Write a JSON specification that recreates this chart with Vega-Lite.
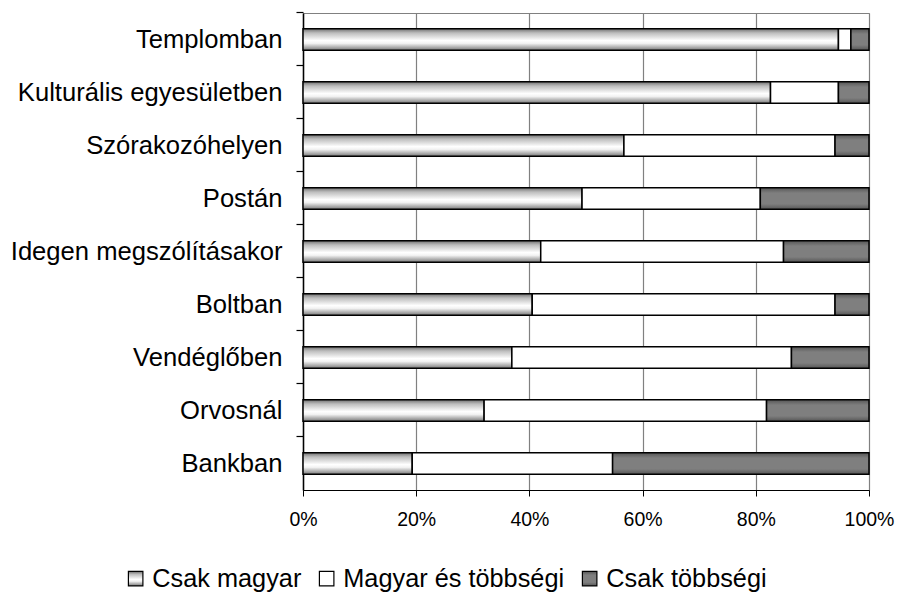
{
  "$schema": "https://vega.github.io/schema/vega-lite/v6.json",
  "width": 566,
  "height": 477,
  "autosize": {"type": "none"},
  "padding": {"left": 303, "top": 13, "right": 29, "bottom": 103},
  "background": "white",
  "config": {
    "font": "Liberation Sans",
    "view": {"stroke": "#808080", "strokeWidth": 1}
  },
  "data": {
    "values": [
      {"hely": "Templomban", "series": "Csak magyar", "value": 94.6},
      {"hely": "Templomban", "series": "Magyar és többségi", "value": 2.2},
      {"hely": "Templomban", "series": "Csak többségi", "value": 3.2},
      {"hely": "Kulturális egyesületben", "series": "Csak magyar", "value": 82.6},
      {"hely": "Kulturális egyesületben", "series": "Magyar és többségi", "value": 12.0},
      {"hely": "Kulturális egyesületben", "series": "Csak többségi", "value": 5.4},
      {"hely": "Szórakozóhelyen", "series": "Csak magyar", "value": 56.7},
      {"hely": "Szórakozóhelyen", "series": "Magyar és többségi", "value": 37.3},
      {"hely": "Szórakozóhelyen", "series": "Csak többségi", "value": 6.0},
      {"hely": "Postán", "series": "Csak magyar", "value": 49.3},
      {"hely": "Postán", "series": "Magyar és többségi", "value": 31.5},
      {"hely": "Postán", "series": "Csak többségi", "value": 19.2},
      {"hely": "Idegen megszólításakor", "series": "Csak magyar", "value": 42.0},
      {"hely": "Idegen megszólításakor", "series": "Magyar és többségi", "value": 42.9},
      {"hely": "Idegen megszólításakor", "series": "Csak többségi", "value": 15.1},
      {"hely": "Boltban", "series": "Csak magyar", "value": 40.5},
      {"hely": "Boltban", "series": "Magyar és többségi", "value": 53.5},
      {"hely": "Boltban", "series": "Csak többségi", "value": 6.0},
      {"hely": "Vendéglőben", "series": "Csak magyar", "value": 36.9},
      {"hely": "Vendéglőben", "series": "Magyar és többségi", "value": 49.4},
      {"hely": "Vendéglőben", "series": "Csak többségi", "value": 13.7},
      {"hely": "Orvosnál", "series": "Csak magyar", "value": 32.0},
      {"hely": "Orvosnál", "series": "Magyar és többségi", "value": 49.9},
      {"hely": "Orvosnál", "series": "Csak többségi", "value": 18.1},
      {"hely": "Bankban", "series": "Csak magyar", "value": 19.3},
      {"hely": "Bankban", "series": "Magyar és többségi", "value": 35.4},
      {"hely": "Bankban", "series": "Csak többségi", "value": 45.3}
    ]
  },
  "transform": [
    {
      "lookup": "series",
      "from": {
        "data": {"values": [
          {"series": "Csak magyar", "k": 1},
          {"series": "Magyar és többségi", "k": 2},
          {"series": "Csak többségi", "k": 3}
        ]},
        "key": "series",
        "fields": ["k"]
      }
    }
  ],
  "layer": [
    {
      "mark": {"type": "bar", "stroke": "black", "strokeWidth": 1.5},
      "encoding": {
        "y": {
          "field": "hely",
          "type": "nominal",
          "sort": ["Templomban", "Kulturális egyesületben", "Szórakozóhelyen", "Postán", "Idegen megszólításakor", "Boltban", "Vendéglőben", "Orvosnál", "Bankban"],
          "scale": {"paddingInner": 0.59, "paddingOuter": 0.295},
          "axis": {
            "title": null,
            "orient": "left",
            "ticks": false,
            "domain": true,
            "domainColor": "black",
            "domainWidth": 1.5,
            "labelFontSize": 25.6,
            "labelColor": "black",
            "labelPadding": 21,
            "labelLimit": 400
          }
        },
        "x": {
          "field": "value",
          "type": "quantitative",
          "stack": "zero",
          "scale": {"domain": [0, 100], "nice": false},
          "axis": {
            "title": null,
            "values": [0, 20, 40, 60, 80, 100],
            "labelExpr": "datum.value + '%'",
            "labelFlush": false,
            "labelFontSize": 19.5,
            "labelColor": "black",
            "labelPadding": 14,
            "tickSize": 6,
            "tickColor": "black",
            "domainColor": "black",
            "domainWidth": 1.2,
            "grid": true,
            "gridColor": "#808080",
            "gridWidth": 1.2
          }
        },
        "order": {"field": "k", "type": "quantitative"},
        "color": {
          "field": "series",
          "type": "nominal",
          "sort": ["Csak magyar", "Magyar és többségi", "Csak többségi"],
          "scale": {
            "domain": ["Csak magyar", "Magyar és többségi", "Csak többségi"],
            "range": [
              {"expr": "{gradient: 'linear', x1: 0, y1: 0, x2: 0, y2: 1, stops: [{offset: 0, color: '#6e6e6e'}, {offset: 0.2, color: '#bdbdbd'}, {offset: 0.55, color: '#ffffff'}, {offset: 0.68, color: '#f2f2f2'}, {offset: 1, color: '#777777'}]}"},
              "#ffffff",
              {"expr": "{gradient: 'linear', x1: 0, y1: 0, x2: 0, y2: 1, stops: [{offset: 0, color: '#555555'}, {offset: 0.25, color: '#7f7f7f'}, {offset: 0.75, color: '#7f7f7f'}, {offset: 1, color: '#555555'}]}"}
            ]
          },
          "legend": {
            "title": null,
            "orient": "none",
            "legendX": -180,
            "legendY": 553,
            "direction": "horizontal",
            "symbolType": "square",
            "symbolSize": 210,
            "symbolStrokeColor": "black",
            "symbolStrokeWidth": 1.2,
            "labelFontSize": 25.3,
            "labelColor": "black",
            "labelOffset": 4,
            "columnPadding": 12,
            "labelLimit": 400
          }
        }
      }
    },
    {
      "mark": {"type": "bar", "opacity": 0},
      "encoding": {
        "y": {
          "field": "hely",
          "type": "nominal",
          "sort": ["Templomban", "Kulturális egyesületben", "Szórakozóhelyen", "Postán", "Idegen megszólításakor", "Boltban", "Vendéglőben", "Orvosnál", "Bankban"],
          "axis": {
            "title": null,
            "orient": "left",
            "labels": false,
            "domain": false,
            "ticks": true,
            "tickSize": 7,
            "tickColor": "black",
            "tickWidth": 1.2,
            "bandPosition": -0.72
          }
        },
        "x": {"field": "value", "type": "quantitative", "stack": "zero"},
        "order": {"field": "k", "type": "quantitative"},
        "detail": {"field": "series", "type": "nominal"}
      }
    }
  ],
  "resolve": {"axis": {"y": "independent"}}
}
